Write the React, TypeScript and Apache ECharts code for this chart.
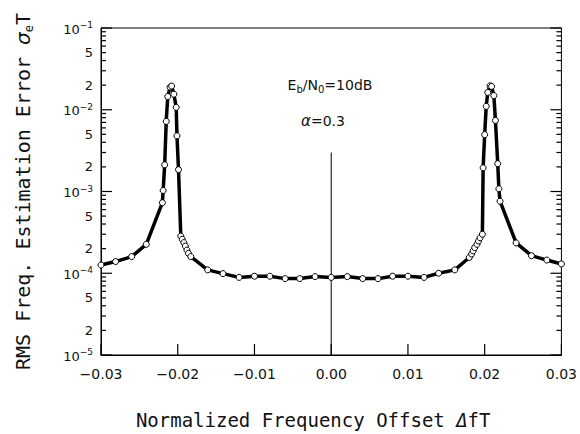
import React, { useEffect, useRef } from "react";
import * as echarts from "echarts";

// Normalized frequency offset ΔfT
const FREQ_OFFSET = [
  -0.03, -0.0281, -0.026, -0.0241, -0.022, -0.0219, -0.0217, -0.0215, -0.0213, -0.021,
  -0.0208, -0.0205, -0.0202, -0.0201, -0.0199, -0.0196, -0.0194, -0.0192, -0.019, -0.0188,
  -0.0186, -0.0183, -0.0161, -0.0141, -0.012, -0.01, -0.008, -0.006, -0.0041, -0.0021,
  0.0, 0.0021, 0.0041, 0.0061, 0.008, 0.01, 0.0121, 0.014, 0.0161, 0.018,
  0.0183, 0.0185, 0.0187, 0.019, 0.0192, 0.0194, 0.0197, 0.0198, 0.02, 0.0202,
  0.0204, 0.0207, 0.0209, 0.0212, 0.0214, 0.0217, 0.02185, 0.022, 0.0241, 0.0261,
  0.0281, 0.03,
];

// RMS frequency estimation error σe·T
const RMS_ERROR = [
  1.26e-4, 1.39e-4, 1.6e-4, 2.26e-4, 7.3e-4, 1.03e-3, 2.12e-3, 7.2e-3, 1.45e-2, 1.89e-2,
  1.95e-2, 1.55e-2, 1.07e-2, 4.8e-3, 1.85e-3, 2.85e-4, 2.6e-4, 2.37e-4, 2.15e-4, 1.92e-4,
  1.75e-4, 1.6e-4, 1.1e-4, 9.9e-5, 8.9e-5, 9.2e-5, 9.2e-5, 8.6e-5, 8.6e-5, 9.1e-5,
  8.9e-5, 9.1e-5, 8.6e-5, 8.6e-5, 9.2e-5, 9.2e-5, 8.9e-5, 1.0e-4, 1.1e-4, 1.56e-4,
  1.72e-4, 1.88e-4, 2.06e-4, 2.26e-4, 2.48e-4, 2.72e-4, 3.0e-4, 1.95e-3, 4.96e-3, 1.1e-2,
  1.63e-2, 1.96e-2, 1.93e-2, 1.49e-2, 7.4e-3, 2.19e-3, 1.08e-3, 7.6e-4, 2.35e-4, 1.64e-4,
  1.45e-4, 1.3e-4,
];

// Zero-offset reference line (from top to bottom)
const ZERO_LINE_X = [0, 0];
const ZERO_LINE_Y = [3.0e-3, 1e-5];

const X_MIN = -0.03;
const X_MAX = 0.03;
const X_TICKS = [-0.03, -0.02, -0.01, 0, 0.01, 0.02, 0.03];
const Y_DECADES = [-5, -4, -3, -2, -1];
const Y_MINOR_MANTISSAS = [2, 3, 4, 5, 6, 7, 8, 9];
const Y_LABELED_MANTISSAS = [2, 5];

const NUM_FONT = "DejaVu Sans";
const TITLE_FONT = "DejaVu Sans Mono";

export default function App() {
  const ref = useRef<HTMLDivElement>(null);

  useEffect(() => {
    if (!ref.current) return;
    const chart = echarts.init(ref.current, null, { renderer: "svg" });

    const lg = (v: number) => Math.log10(v);
    const seriesData = FREQ_OFFSET.map((x, i) => [x, lg(RMS_ERROR[i])]);
    const zeroData = ZERO_LINE_X.map((x, i) => [x, lg(ZERO_LINE_Y[i])]);

    // tick marks: [x, y, direction (1 right, -1 left, 0 up), length]
    const tickData: number[][] = [];
    // minor labels: [y, mantissa]
    const minorLabelData: number[][] = [];
    Y_DECADES.forEach((d) => {
      tickData.push([X_MIN, d, 1, 11]);
      tickData.push([X_MAX, d, -1, 11]);
      if (d < -1) {
        Y_MINOR_MANTISSAS.forEach((m) => {
          const v = d + Math.log10(m);
          tickData.push([X_MIN, v, 1, 5]);
          tickData.push([X_MAX, v, -1, 5]);
        });
        Y_LABELED_MANTISSAS.forEach((m) => minorLabelData.push([d + Math.log10(m), m]));
      }
    });
    X_TICKS.forEach((v) => tickData.push([v, -5, 0, 11]));

    const yFormatter = (v: number) => {
      const r = Math.round(v);
      return `{b|10}{s|\u2212${-r}}`;
    };

    const yRich = {
      b: { fontSize: 13, fontFamily: NUM_FONT, color: "#111", verticalAlign: "bottom", lineHeight: 15 },
      s: { fontSize: 9, fontFamily: NUM_FONT, color: "#111", verticalAlign: "top", lineHeight: 10, padding: [0, 0, 12, 0] },
    };

    const option: any = {
      animation: false,
      grid: {
        left: 101,
        right: 18,
        top: 28,
        bottom: 78,
        containLabel: false,
        show: true,
        borderColor: "#000",
        borderWidth: 1,
        backgroundColor: "transparent",
      },
      xAxis: {
        type: "value",
        min: X_MIN,
        max: X_MAX,
        interval: 0.01,
        name: "{n|Normalized Frequency Offset }{d|\u0394}{n|fT}",
        nameLocation: "middle",
        nameGap: 55,
        nameTextStyle: {
          padding: [0, 36, 0, 0],
          rich: {
            n: { fontSize: 19, fontFamily: TITLE_FONT, color: "#111" },
            d: { fontSize: 19, fontFamily: TITLE_FONT, fontStyle: "italic", color: "#111" },
          },
        },
        axisLine: { show: true, onZero: false, lineStyle: { color: "#000", width: 1 } },
        axisTick: { show: false },
        axisLabel: {
          margin: 12,
          fontSize: 14,
          fontFamily: NUM_FONT,
          color: "#111",
          formatter: (v: number) =>
            Math.abs(v) < 1e-9 ? "0.00" : (v < 0 ? "\u2212" : "") + Math.abs(v).toFixed(2),
        },
        splitLine: { show: false },
      },
      yAxis: {
        type: "value",
        min: -5,
        max: -1,
        interval: 1,
        name: "{n|RMS Freq. Estimation Error }{g|\u03C3}{sub|e}{n|T}",
        nameLocation: "middle",
        nameRotate: 90,
        nameGap: 66,
        nameTextStyle: {
          rich: {
            n: { fontSize: 20, fontFamily: TITLE_FONT, color: "#111", verticalAlign: "top", lineHeight: 22 },
            g: { fontSize: 20, fontFamily: NUM_FONT, fontStyle: "italic", color: "#111", verticalAlign: "top", lineHeight: 22 },
            sub: { fontSize: 12, fontFamily: TITLE_FONT, color: "#111", verticalAlign: "bottom", lineHeight: 12, padding: [14, 0, 0, 0] },
          },
        },
        axisLine: { show: true, onZero: false, lineStyle: { color: "#000", width: 1 } },
        axisTick: { show: false },
        axisLabel: { show: true, margin: 8, formatter: yFormatter, rich: yRich },
        splitLine: { show: false },
      },
      graphic: [
        {
          type: "text",
          x: 330,
          y: 86,
          z: 10,
          style: {
            text: "{n|E}{sub|b}{n|/N}{sub|0}{n|=10dB}",
            align: "center",
            verticalAlign: "middle",
            rich: {
              n: { fontSize: 14, fontFamily: NUM_FONT, fill: "#111", verticalAlign: "top", lineHeight: 16 },
              sub: { fontSize: 10, fontFamily: NUM_FONT, fill: "#111", verticalAlign: "bottom", lineHeight: 10, padding: [8, 0, 0, 0] },
            },
          },
        },
        {
          type: "text",
          x: 323,
          y: 121,
          z: 10,
          style: {
            text: "{a|\u03B1}{n|=0.3}",
            align: "center",
            verticalAlign: "middle",
            rich: {
              a: { fontSize: 15, fontFamily: NUM_FONT, fontStyle: "italic", fill: "#111" },
              n: { fontSize: 14, fontFamily: NUM_FONT, fill: "#111" },
            },
          },
        },
      ],
      series: [
        {
          type: "custom",
          data: tickData,
          encode: { x: 0, y: 1 },
          clip: false,
          silent: true,
          renderItem: (params: any, api: any) => {
            const p = api.coord([api.value(0), api.value(1)]);
            const dir = api.value(2);
            const len = api.value(3);
            return {
              type: "line",
              shape: {
                x1: p[0],
                y1: p[1],
                x2: dir === 0 ? p[0] : p[0] + dir * len,
                y2: dir === 0 ? p[1] - len : p[1],
              },
              style: { stroke: "#000", lineWidth: 1.2 },
            };
          },
        },
        {
          type: "custom",
          data: minorLabelData.map((d) => [X_MIN, d[0], d[1]]),
          encode: { x: 0, y: 1 },
          clip: false,
          silent: true,
          renderItem: (params: any, api: any) => {
            const p = api.coord([api.value(0), api.value(1)]);
            return {
              type: "text",
              x: p[0] - 8,
              y: p[1],
              style: {
                text: String(api.value(2)),
                fill: "#111",
                fontSize: 13,
                fontFamily: NUM_FONT,
                align: "right",
                verticalAlign: "middle",
              },
            };
          },
        },
        {
          type: "line",
          data: zeroData,
          symbol: "none",
          lineStyle: { color: "#000", width: 1 },
        },
        {
          type: "line",
          data: seriesData,
          symbol: "circle",
          symbolSize: 6,
          showAllSymbol: true,
          itemStyle: { color: "#fff", borderColor: "#000", borderWidth: 1 },
          lineStyle: { color: "#000", width: 3.5 },
          z: 3,
        },
      ],
    };

    chart.setOption(option);
    return () => chart.dispose();
  }, []);

  return (
    <div
      ref={ref}
      style={{ position: "absolute", left: 0, top: 0, width: 580, height: 434, background: "#fff" }}
    />
  );
}
